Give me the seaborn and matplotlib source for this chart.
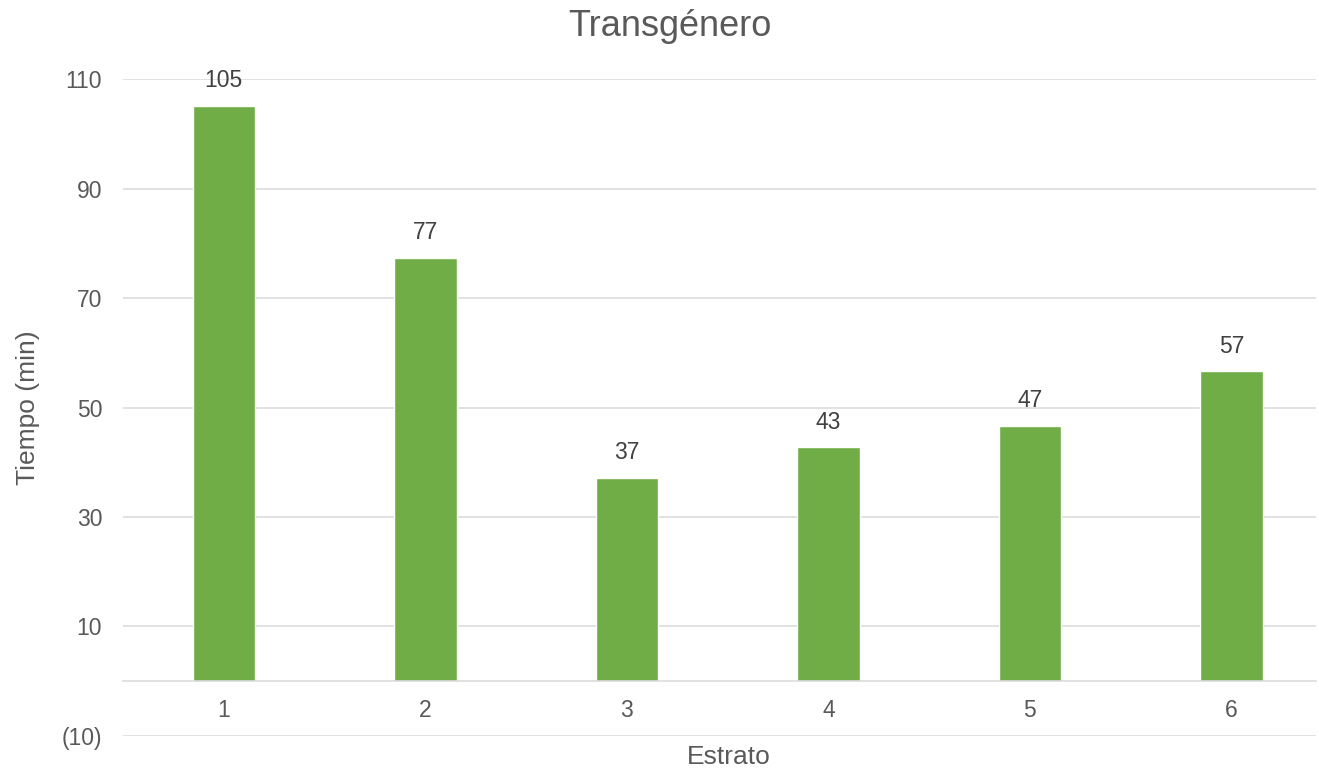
import matplotlib.pyplot as plt
import seaborn as sns
import pandas as pd

estratos = ["1", "2", "3", "4", "5", "6"]
tiempos = [105.1, 77.3, 37.1, 42.7, 46.7, 56.6]
yticks = [-10, 10, 30, 50, 70, 90, 110]

df = pd.DataFrame({"Estrato": estratos, "Tiempo": tiempos})

sns.set_style("white")
plt.rcParams["font.family"] = ["Liberation Sans", "DejaVu Sans"]

fig = plt.figure(figsize=(13.19, 7.68), dpi=100)
ax = fig.add_axes([0.0933, 0.0417, 0.9044, 0.8553])

sns.barplot(data=df, x="Estrato", y="Tiempo", color="#70AD47", width=0.31,
            saturation=1, ax=ax)

ax.set_ylim(-10, 110)
ax.set_xlim(-0.5, 5.42)
ax.set_yticks(yticks)
ax.set_yticklabels([f"({abs(v)})" if v < 0 else str(v) for v in yticks])
ax.yaxis.grid(True, color="#d9d9d9", linewidth=1.1)
ax.set_axisbelow(True)

for side in ["top", "left", "right"]:
    ax.spines[side].set_visible(False)
ax.spines["bottom"].set_position(("data", 0))
ax.spines["bottom"].set_color("#d9d9d9")
ax.spines["bottom"].set_linewidth(1.1)

ax.tick_params(axis="both", length=0, labelsize=16.5, colors="#595959")
ax.tick_params(axis="x", pad=13)
ax.tick_params(axis="y", pad=15)

for c in ax.containers:
    ax.bar_label(c, labels=[f"{v:.0f}" for v in tiempos], padding=10,
                 fontsize=16.5, color="#404040")

fig.text(0.508, 0.965, "Transgénero", fontsize=26, color="#595959",
         ha="center", va="center")
ax.set_xlabel("Estrato", fontsize=19, color="#595959", va="top")
ax.xaxis.set_label_coords(0.508, -0.013)
ax.set_ylabel("Tiempo (min)", fontsize=19, color="#595959",
              va="center", ha="center")
ax.yaxis.set_label_coords(-0.0796, 0.5)

fig.savefig("out.png", dpi=100)
